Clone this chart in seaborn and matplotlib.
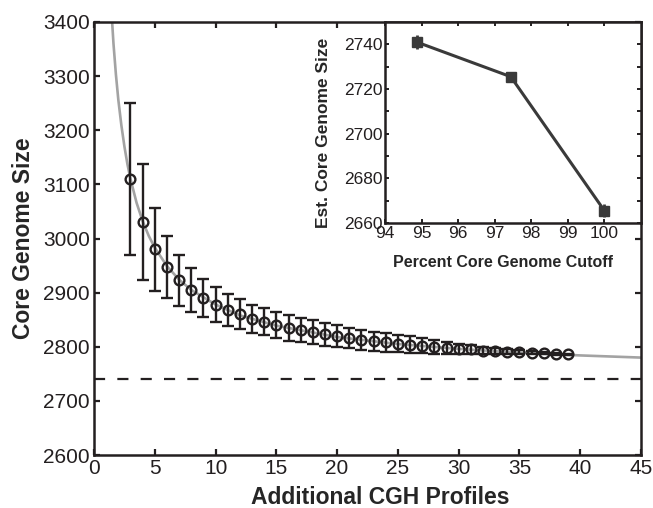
import numpy as np
import pandas as pd
import seaborn as sns
import matplotlib
matplotlib.use('Agg')
import matplotlib.pyplot as plt

sns.set_style('ticks')
plt.rcParams['font.family'] = ['Liberation Sans', 'DejaVu Sans']

# main panel: mean core genome size vs number of added profiles
profiles = list(range(3, 40))
core_size = [3110, 3030, 2980, 2948, 2923, 2905, 2890, 2878, 2868, 2860,
             2852, 2846, 2841, 2835, 2831, 2827, 2823, 2820, 2816, 2813,
             2810, 2808, 2806, 2804, 2802, 2800, 2798, 2796, 2795, 2793,
             2792, 2791, 2790, 2789, 2788, 2787, 2786]
core_err = [141, 107, 77, 57, 47, 40, 35, 32, 30, 28,
            26, 25, 24, 24, 23, 22, 21, 20, 19, 18.5,
            18, 17, 16, 15, 14, 13, 11, 10, 8.5, 7,
            6, 5, 4, 3, 2, 1.5, 1]

# fitted curve
fit_x = [1.4, 1.6, 1.8, 2.0, 2.25, 2.5, 2.75, 3, 3.5, 4, 4.5, 5, 6, 7, 8,
         10, 12, 15, 20, 25, 30, 35, 40, 45]
fit_y = [3432, 3360, 3303, 3256, 3209, 3170, 3137, 3110, 3066, 3032, 3005,
         2983, 2949, 2924, 2905, 2878, 2858, 2839, 2818, 2805, 2796, 2789,
         2784, 2780]
asymptote = 2740

# inset: estimated core size vs cutoff
cutoff = [94.87, 97.44, 100.0]
est_size = [2741, 2725.5, 2665.5]
est_err = [3, 1, 3]

fit = pd.DataFrame({'x': fit_x, 'y': fit_y})

fig = plt.figure(figsize=(6.53, 5.08), dpi=100)
ax = fig.add_axes([0.144, 0.1043, 0.8376, 0.8524])

sns.lineplot(data=fit, x='x', y='y', ax=ax, color='#a3a3a3', lw=1.9, zorder=1)
ax.axhline(asymptote, color='#231f20', lw=1.6, ls=(0, (5, 5.5)), zorder=1)
ax.errorbar(profiles, core_size, yerr=core_err, fmt='o', ms=7, mfc='none',
            mec='#231f20', mew=1.7, ecolor='#231f20', elinewidth=1.7,
            capsize=4, capthick=1.7, zorder=3)

ax.set(xlim=(0, 45), ylim=(2600, 3400),
       xticks=np.arange(0, 46, 5), yticks=np.arange(2600, 3401, 100))
ax.set_xlabel('Additional CGH Profiles', fontsize=16.5, fontweight='bold')
ax.set_ylabel('Core Genome Size', fontsize=16.5, fontweight='bold', labelpad=6)
ax.xaxis.set_label_coords(0.523, -0.072)
ax.tick_params(direction='in', length=4, width=1.6, labelsize=15,
               top=True, right=True, colors='#231f20', pad=3)
for s in ax.spines.values():
    s.set_linewidth(1.8)
    s.set_color('#231f20')

# inset
ins = fig.add_axes([0.5896, 0.561, 0.392, 0.3957])
ins.errorbar(cutoff, est_size, yerr=est_err, fmt='-s', color='#3a3a3a',
             lw=2.2, ms=6.5, elinewidth=2, capsize=0, zorder=3)
ins.set(xlim=(94, 101), ylim=(2660, 2750),
        xticks=np.arange(94, 101, 1), yticks=np.arange(2660, 2741, 10))
ins.set_yticklabels([str(v) if v % 20 == 0 else '' for v in range(2660, 2741, 10)])
ins.set_xlabel('Percent Core Genome Cutoff', fontsize=11.5, fontweight='bold')
ins.set_ylabel('Est. Core Genome Size', fontsize=12.5, fontweight='bold')
ins.xaxis.set_label_coords(0.46, -0.16)
ins.yaxis.set_label_coords(-0.21, 0.45)
ins.tick_params(direction='in', length=3, width=1.4, labelsize=12.5,
                top=True, right=True, colors='#231f20', pad=2)
for s in ins.spines.values():
    s.set_linewidth(1.8)
    s.set_color('#231f20')

fig.savefig('out.png', dpi=100)
